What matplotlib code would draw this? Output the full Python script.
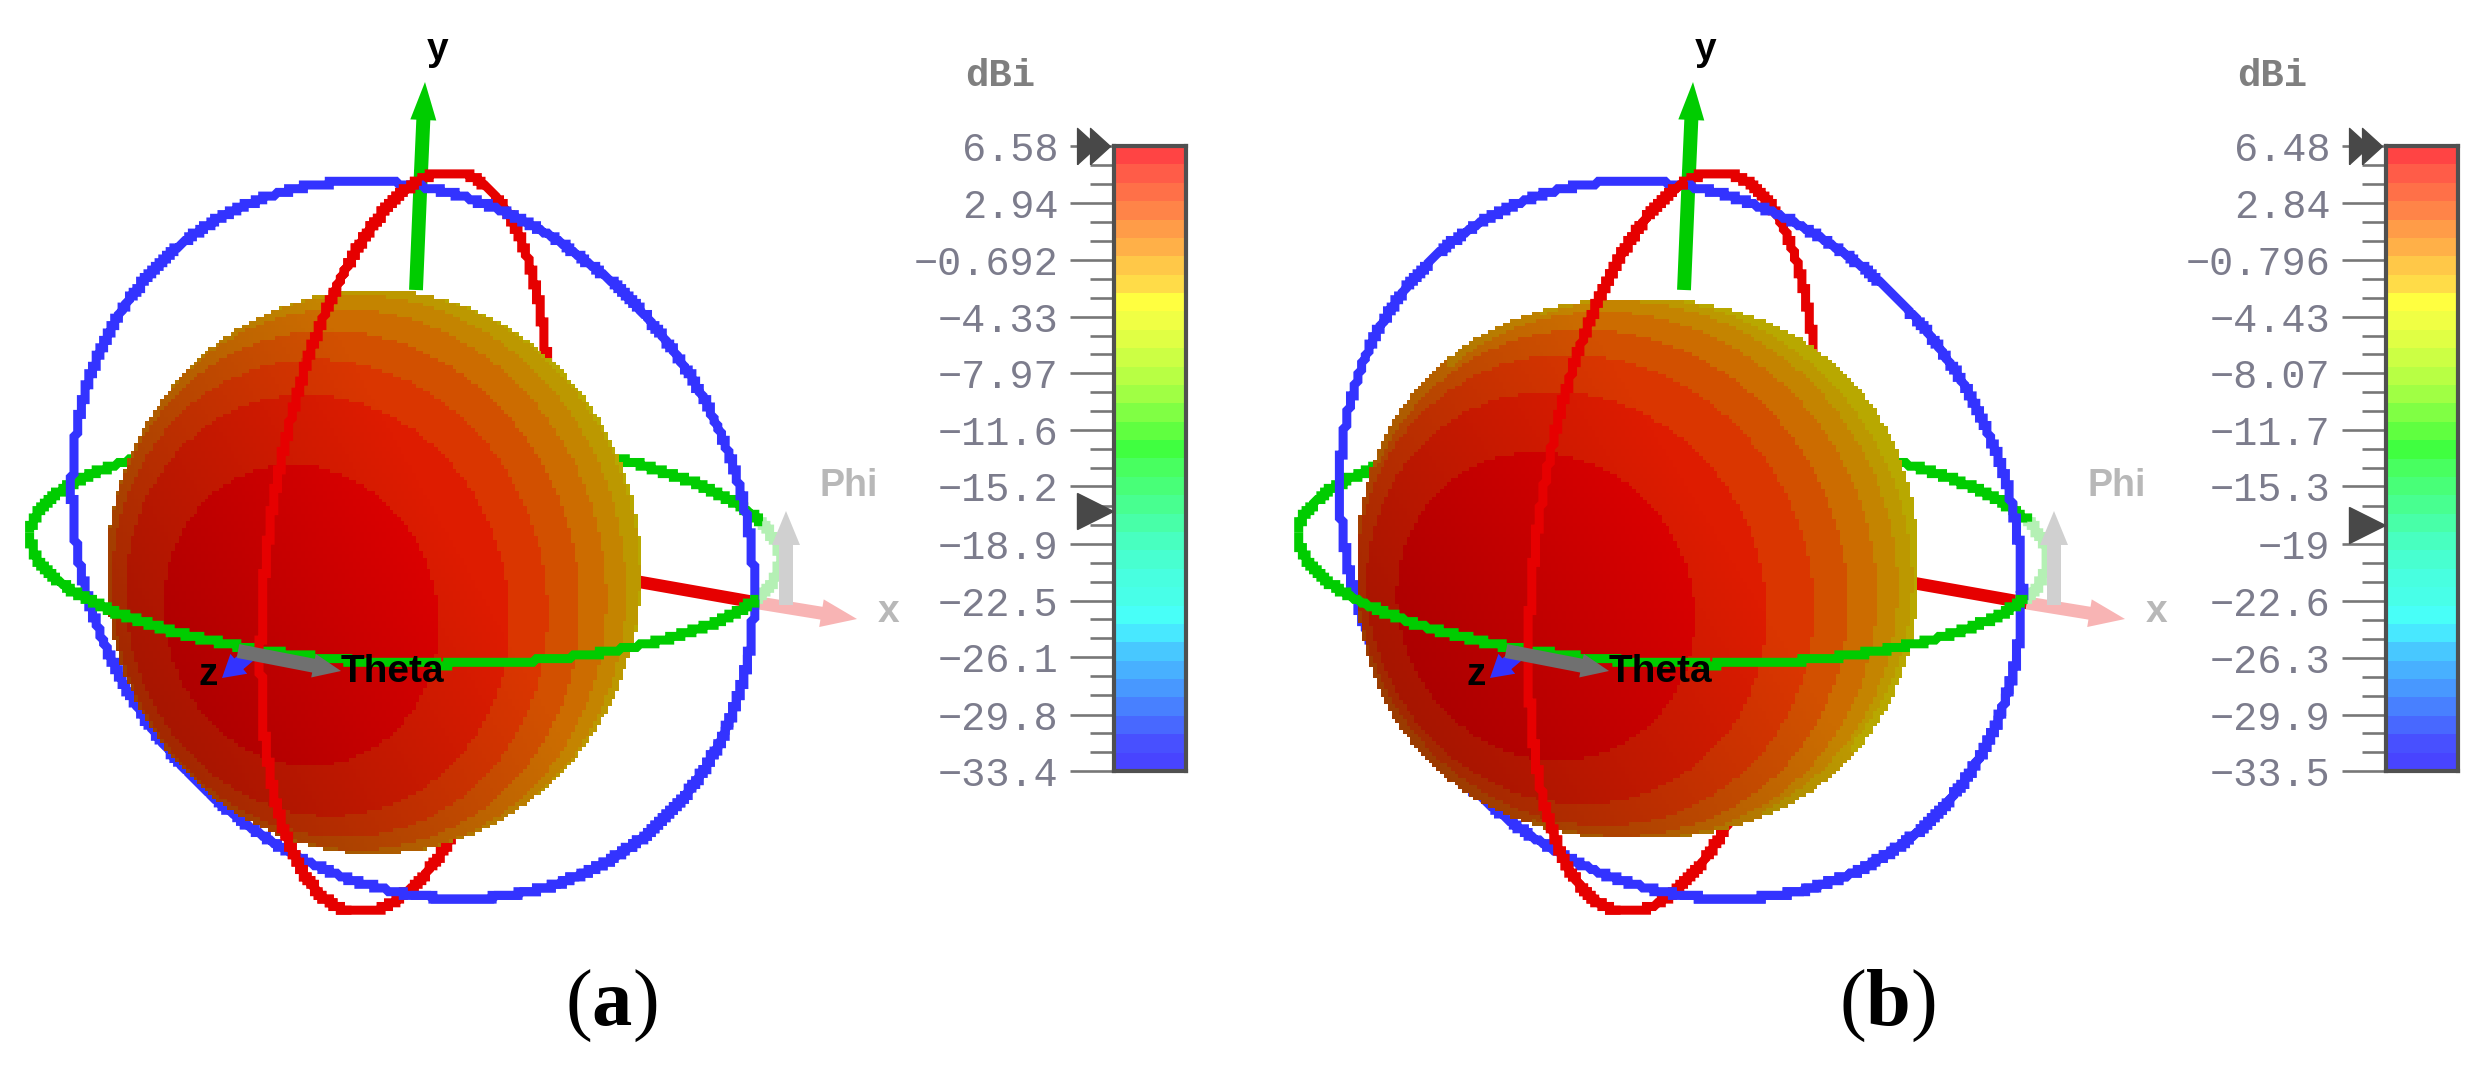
import numpy as np
import matplotlib
matplotlib.use('Agg')
import matplotlib.pyplot as plt
from matplotlib.colors import ListedColormap, to_rgb

plt.rcParams['mathtext.fontset'] = 'custom'
plt.rcParams['mathtext.rm'] = 'Liberation Serif'
plt.rcParams['mathtext.bf'] = 'Liberation Serif:bold'

# colour scale values, top to bottom
labels_a = ['6.58', '2.94', '\u22120.692', '\u22124.33', '\u22127.97', '\u221211.6',
            '\u221215.2', '\u221218.9', '\u221222.5', '\u221226.1', '\u221229.8', '\u221233.4']
labels_b = ['6.48', '2.84', '\u22120.796', '\u22124.43', '\u22128.07', '\u221211.7',
            '\u221215.3', '\u221219', '\u221222.6', '\u221226.3', '\u221229.9', '\u221233.5']
marker_a = -16.8
marker_b = -17.75

scale_colors = ['#ff4444', '#ff5c48', '#ff7048', '#ff8448', '#ff9c48', '#ffb048', '#ffc848',
                '#ffdc48', '#ffff40', '#f0ff44', '#e0ff44', '#ccff44', '#b8ff44', '#a0ff44',
                '#80ff44', '#60ff40', '#40ff40', '#48ff60', '#48ff78', '#48ff90', '#48ffa8',
                '#48ffc0', '#48ffd0', '#48ffe0', '#48ffe8', '#48fff8', '#48e8ff', '#48c8ff',
                '#48b0ff', '#4898ff', '#4880ff', '#4868ff', '#4850ff', '#4844ff']

# sphere bands, hottest first, limits are cos(angle to the main beam)
band_colors = ['#e00000', '#de1c00', '#da3600', '#d25000', '#cc6c00', '#c48400', '#bc9800', '#b8a800']
band_limits_a = [0.84, 0.651, 0.509, 0.354, 0.186, 0.012, -0.21]
band_limits_b = [0.816, 0.632, 0.465, 0.309, 0.142, -0.023, -0.191]

BLUE = '#3333ff'
RED = '#e60000'
GREEN = '#00cc00'
PIX = 3.7


def ring(cx, cy, a, b, angle, t0=0, t1=360):
    t = np.radians(np.linspace(t0, t1, 1500))
    ang = np.radians(angle)
    x = cx + a * np.cos(t) * np.cos(ang) - b * np.sin(t) * np.sin(ang)
    y = cy + a * np.cos(t) * np.sin(ang) + b * np.sin(t) * np.cos(ang)
    return np.round(x / PIX) * PIX, np.round(y / PIX) * PIX


def draw_ring(ax, xy, color, z, lw=6.5):
    ax.plot(xy[0], xy[1], color=color, lw=lw, zorder=z, solid_joinstyle='miter', solid_capstyle='butt')


def sphere(ax, cx, cy, rx, ry, px, py, limits, expo):
    xs = np.arange(cx - rx - PIX, cx + rx + PIX, PIX)
    ys = np.arange(cy - ry - PIX, cy + ry + PIX, PIX)
    xx, yy = np.meshgrid(xs, ys)
    p = (xx - cx) / rx
    q = (yy - cy) / ry
    r = np.abs(p) ** expo + np.abs(q) ** expo
    z = np.sqrt(np.clip(1 - p ** 2 - q ** 2, 0, 1))
    nz = np.sqrt(1 - px ** 2 - py ** 2)
    c = p * px + q * py + z * nz
    idx = np.digitize(-c, -np.array(limits))
    rgb = np.array([to_rgb(k) for k in band_colors])[idx]
    shade = np.clip(0.94 + 0.17 * p - 0.10 * q, 0, 1)[..., None]
    img = np.dstack([rgb * shade, (r <= 1).astype(float)])
    ax.imshow(img, extent=[xs[0], xs[-1] + PIX, ys[-1] + PIX, ys[0]], interpolation='nearest',
              aspect='auto', zorder=3)


def panel(ax, dx, sph, limits, expo, tag, tag_x):
    blue = (413 + dx, 540, 376, 322, 54.6)
    red = (405 + dx, 542, 373, 136, 98.0)
    green = (405 + dx, 547.5, 375, 116, 2.0)

    # rings behind the pattern
    draw_ring(ax, ring(*red), RED, 2)
    draw_ring(ax, ring(*green, 180, 341), GREEN, 2)
    draw_ring(ax, ring(*green, -22, 22), '#b4f0b4', 1.2)
    draw_ring(ax, ring(*blue), BLUE, 2.2)

    # axes
    ax.plot([416 + dx, 421 + dx], [290, 170], color=GREEN, lw=10, zorder=1, solid_capstyle='butt')
    ax.arrow(421 + dx, 172, 4, -90, width=14, head_width=26, head_length=38,
             length_includes_head=True, color=GREEN, lw=0, zorder=1)
    ax.plot([640 + dx, 759 + dx], [582, 603], color=RED, lw=9, zorder=1, solid_capstyle='butt')
    ax.arrow(759 + dx, 603, 98, 16, width=13, head_width=28, head_length=36,
             length_includes_head=True, color='#f8b4b4', lw=0, zorder=1)
    ax.arrow(786 + dx, 605, 0, -94, width=14, head_width=28, head_length=34,
             length_includes_head=True, color='#d0d0d0', lw=0, zorder=1.5)

    sphere(ax, *sph, limits, expo)

    # front parts of the rings
    draw_ring(ax, ring(*green, 19, 180), GREEN, 4)
    draw_ring(ax, ring(*red, 0, 165), RED, 4)
    draw_ring(ax, ring(*blue, -40, 40), BLUE, 5)

    # z and theta arrows
    ax.arrow(254 + dx, 651, -32, 27, width=14, head_width=26, head_length=22,
             length_includes_head=True, color=BLUE, lw=0, zorder=6)
    ax.arrow(238 + dx, 651, 103, 20, width=14, head_width=24, head_length=28,
             length_includes_head=True, color='#707070', lw=0, zorder=6)

    sans = 'Liberation Sans'
    ax.text(208 + dx, 675, 'z', fontsize=28, fontweight='bold', family=sans, ha='center', va='center', zorder=7)
    ax.text(392 + dx, 672, 'Theta', fontsize=28, fontweight='bold', family=sans, ha='center', va='center', zorder=7)
    ax.text(849 + dx, 486, 'Phi', fontsize=27, fontweight='bold', family=sans, color='#b8b8b8',
            ha='center', va='center', zorder=7)
    ax.text(889 + dx, 612, 'x', fontsize=28, fontweight='bold', family=sans, color='#b8b8b8',
            ha='center', va='center', zorder=7)
    ax.text(438 + dx, 50, 'y', fontsize=28, fontweight='bold', family=sans, ha='center', va='center', zorder=7)
    ax.text(tag_x, 1005, tag, fontsize=58, ha='center', va='center', zorder=7)


def scale(fig, left, labels, mark):
    W, H = 2488, 1070
    cax = fig.add_axes([left / W, 1 - 771 / H, 72 / W, 625 / H])
    values = [float(s.replace('\u2212', '-')) for s in labels]
    vmax, vmin = values[0], values[-1]
    edges = np.linspace(vmax, vmin, len(scale_colors) + 1)
    cax.pcolormesh([0, 1], edges, np.arange(len(scale_colors))[:, None],
                   cmap=ListedColormap(scale_colors))
    cax.set_ylim(vmin, vmax)
    cax.set_xticks([])
    cax.set_yticks(values)
    cax.set_yticklabels(labels, family='Liberation Mono', fontsize=29, color='#7c7c8c')
    minors = [values[i] + (values[i + 1] - values[i]) * k / 3 for i in range(len(values) - 1) for k in (1, 2)]
    cax.set_yticks(minors, minor=True)
    cax.tick_params(axis='y', which='major', length=32, width=1.9, color='#777777', pad=8)
    cax.tick_params(axis='y', which='minor', length=17, width=1.9, color='#777777')
    for s in cax.spines.values():
        s.set_color('#505050')
        s.set_linewidth(3)
    tr = cax.get_yaxis_transform()
    thin = [(-0.55, -1), (-0.55, 1), (0.55, 0), (-0.55, -1)]
    cax.plot([-0.375], [vmax], marker=thin, ms=26, color='#484848', transform=tr, clip_on=False, zorder=5)
    cax.plot([-0.19], [vmax], marker=thin, ms=26, color='#484848', transform=tr, clip_on=False, zorder=5)
    cax.plot([-0.26], [mark], marker='>', ms=26, color='#484848', transform=tr, clip_on=False, zorder=5)
    cax.text(-1.58, 1.112, 'dBi', family='Liberation Mono', fontweight='bold', fontsize=28,
             color='#7f7f7f', transform=cax.transAxes, ha='center', va='center')


fig = plt.figure(figsize=(24.88, 10.7), dpi=100)
ax = fig.add_axes([0, 0, 1, 1])
ax.set_xlim(0, 2488)
ax.set_ylim(1070, 0)
ax.axis('off')

panel(ax, 0, (372, 570.5, 267.5, 282, -0.325, 0.183), band_limits_a, 2.0,
      r'$\mathrm{(}\mathbf{a}\mathrm{)}$', 611)
panel(ax, 1268, (1636, 567, 281, 270, -0.40, 0.17), band_limits_b, 2.2,
      r'$\mathrm{(}\mathbf{b}\mathrm{)}$', 1887)
ax.set_xlim(0, 2488)
ax.set_ylim(1070, 0)

scale(fig, 1114, labels_a, marker_a)
scale(fig, 2386, labels_b, marker_b)

fig.savefig('out.png', dpi=100)
